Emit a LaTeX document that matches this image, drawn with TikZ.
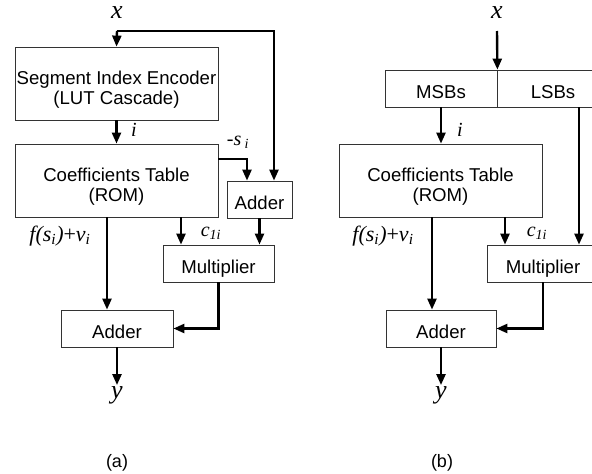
\documentclass[tikz,border=0pt]{standalone}
\usepackage{fontspec}
\setmainfont{Liberation Sans}
\newfontfamily\tms{Liberation Serif}
\usetikzlibrary{arrows.meta}
\newcommand{\twolines}[2]{\raisebox{-6.5pt}[\height][\depth]{\begin{tabular}{@{}c@{}}#1\\#2\end{tabular}}}
\begin{document}
\begin{tikzpicture}[x=1pt,y=-1pt,
  box/.style={draw=black!80, line width=0.8pt, inner sep=0pt, align=center,
    font=\fontsize{18.6}{20}\selectfont},
  onel/.style={text height=20pt, text depth=0pt},
  arr/.style={line width=2.4pt, -{Triangle[length=11pt,width=9pt]}},
  lab/.style={inner sep=1pt, font=\tms\itshape\fontsize{20}{24}\selectfont},
  labf/.style={inner sep=1pt, font=\tms\itshape\fontsize{22}{26}\selectfont},
  big/.style={inner sep=1pt, font=\tms\itshape\fontsize{26}{30}\selectfont},
  captxt/.style={inner sep=0pt, font=\fontsize{18}{22}\selectfont}]
\clip (0,0) rectangle (592,474);
% ---------------- (a) ----------------
\node[box, minimum width=203pt, minimum height=73pt] (enc) at (116.5,83.5)
  {\twolines{Segment Index Encoder}{(LUT Cascade)}};
\node[box, minimum width=203pt, minimum height=73pt] (coef) at (116.5,180.5)
  {\twolines{Coefficients Table}{(ROM)}};
\node[box, onel, minimum width=65pt, minimum height=37pt] (add1) at (259.5,199.5) {Adder};
\node[box, onel, minimum width=111pt, minimum height=37pt] (mul) at (218.5,263.5) {Multiplier};
\node[box, onel, minimum width=112pt, minimum height=37pt] (add2) at (117,328.5) {Adder};
\node[big] (xa) at (117,13) {x};
\node[big] (ya) at (117,395) {y};
\coordinate (ja) at (117,31);
\coordinate (fa) at (274,31);
\coordinate (ca) at (181,0);
\coordinate (sa) at (247,0);
\coordinate (va) at (107,0);
\draw[arr] (ja) -- (enc.north);
\draw[arr] (ja) -- (fa) -- (fa |- add1.north);
\draw[arr] (enc.south) -- (coef.north);
\draw[arr] (coef.east |- 0,159) -| (sa |- add1.north);
\draw[arr] (coef.south -| ca) -- (mul.north -| ca);
\draw[arr] (add1.south) -- (mul.north -| add1.south);
\draw[arr] (coef.south -| va) -- (add2.north -| va);
\draw[arr] (mul.south) |- (add2.east);
\draw[arr] (add2.south) -- (ya.north);
\node[lab] (ia) at (134,130) {i};
\node[lab] (sia) at (238,142) {-s\,\textsubscript{i}};
\node[lab] (cia) at (211,233) {c\textsubscript{1i}};
\node[labf] (fva) at (60,236) {f(s\textsubscript{i}){\upshape+}v\textsubscript{i}};
\node[captxt] (capa) at (117,463) {(a)};
% ---------------- (b) ----------------
\node[box, onel, minimum width=112pt, minimum height=37pt] (msb) at (441,88.5) {MSBs};
\node[box, onel, minimum width=112pt, minimum height=37pt] (lsb) at (553,88.5) {LSBs};
\node[box, minimum width=203pt, minimum height=73pt] (coefb) at (440.5,180.5)
  {\twolines{Coefficients Table}{(ROM)}};
\node[box, onel, minimum width=112pt, minimum height=37pt] (mulb) at (543,263.5) {Multiplier};
\node[box, onel, minimum width=110pt, minimum height=37pt] (addb) at (441,328.5) {Adder};
\node[big] (xb) at (497,13) {x};
\node[big] (yb) at (441,395) {y};
\coordinate (jb) at (497,31);
\coordinate (lx) at (579,0);
\coordinate (cb) at (505,0);
\coordinate (vb) at (432,0);
\draw[arr] (jb) -- (msb.north east);
\draw[arr] (msb.south) -- (coefb.north -| msb.south);
\draw[arr] (lsb.south -| lx) -- (mulb.north -| lx);
\draw[arr] (coefb.south -| cb) -- (mulb.north -| cb);
\draw[arr] (coefb.south -| vb) -- (addb.north -| vb);
\draw[arr] (mulb.south) |- (addb.east);
\draw[arr] (addb.south) -- (yb.north);
\node[lab] (ib) at (460,130) {i};
\node[lab] (cib) at (537,233) {c\textsubscript{1i}};
\node[labf] (fvb) at (383,236) {f(s\textsubscript{i}){\upshape+}v\textsubscript{i}};
\node[captxt] (capb) at (442,463) {(b)};
\end{tikzpicture}
\end{document}
